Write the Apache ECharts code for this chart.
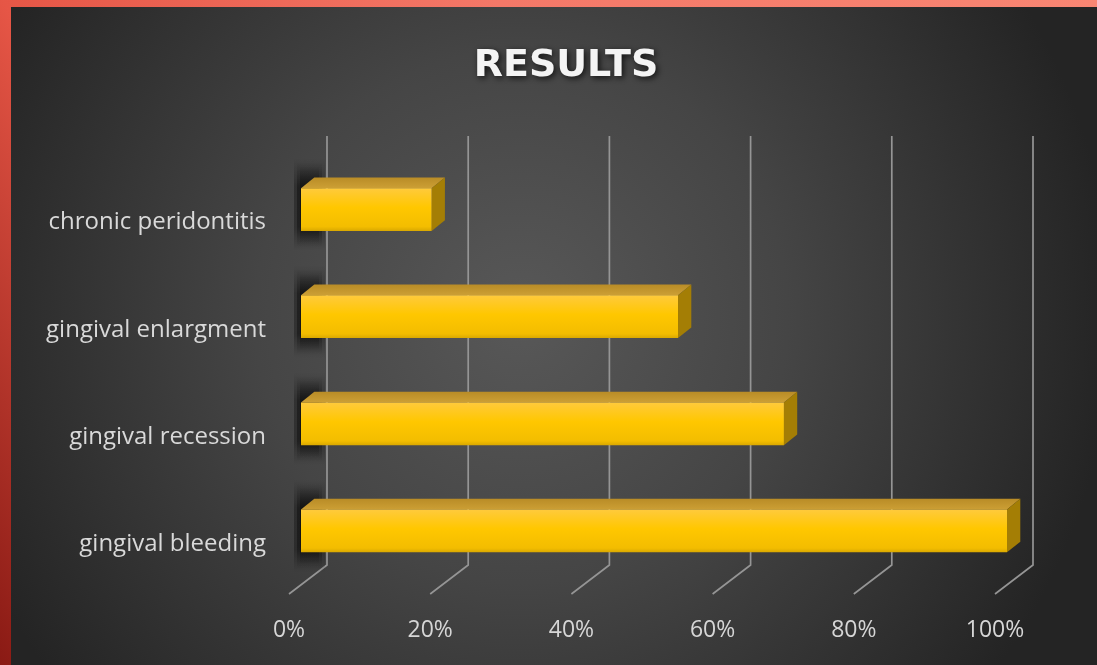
<!DOCTYPE html>
<html><head><meta charset="utf-8">
<script src="https://cdn.jsdelivr.net/npm/echarts@6/dist/echarts.min.js"></script>
<style>html,body{margin:0;padding:0;background:#2a2a2a;overflow:hidden}#c{width:1097px;height:665px}</style>
</head><body><div id="c"></div>
<script>
const categories = ['chronic peridontitis', 'gingival enlargment', 'gingival recession', 'gingival bleeding'];
const values = [18.5, 53.4, 68.4, 100];
const tickValues = [0, 20, 40, 60, 80, 100];
const tickLabels = ['0%', '20%', '40%', '60%', '80%', '100%'];
const chartTitle = 'RESULTS';

const W = 1097, H = 665;
const chart = echarts.init(document.getElementById('c'), null, {renderer: 'canvas', width: W, height: H});

// 3D geometry (pixels)
const BAR_DX = 13.3, BAR_DY = -10.7;   // bar depth
const WALL_DX = 26;                    // back wall offset from bar front plane
const WALL_TOP = -20, WALL_BOT = -19.5;
const FLOOR_DX = -38, FLOOR_DY = 29;

function shadowFill(a) {
  return new echarts.graphic.LinearGradient(0, 0, 0, 1, [
    {offset: 0, color: 'rgba(0,0,0,0)'}, {offset: 0.3, color: 'rgba(0,0,0,' + a + ')'},
    {offset: 0.75, color: 'rgba(0,0,0,' + a + ')'}, {offset: 1, color: 'rgba(0,0,0,0)'}]);
}

function barItem(params, api) {
  const v = api.value(0), idx = api.value(1);
  const p0 = api.coord([0, idx]);
  const p1 = api.coord([v, idx]);
  const h = api.size([0, 1])[1] * 0.4;
  const x0 = p0[0], x1 = p1[0], yt = p0[1] - h / 2, yb = p0[1] + h / 2;
  return {
    type: 'group',
    children: [
      { type: 'rect', shape: {x: x0 - 7, y: yt - 30, width: 31, height: h + 50},
        style: {fill: shadowFill(0.3)} },
      { type: 'rect', shape: {x: x0 - 4, y: yt - 26, width: 25, height: h + 42},
        style: {fill: shadowFill(0.35)} },
      { type: 'rect', shape: {x: x0 - 1, y: yt - 22, width: 19, height: h + 34},
        style: {fill: shadowFill(0.4)} },
      { type: 'polygon', shape: {points: [[x0, yt], [x1, yt], [x1 + BAR_DX, yt + BAR_DY], [x0 + BAR_DX, yt + BAR_DY]]},
        style: {fill: new echarts.graphic.LinearGradient(0, 0, 0, 1, [
          {offset: 0, color: '#b98c26'}, {offset: 1, color: '#cc9f35'}])} },
      { type: 'polygon', shape: {points: [[x1, yt], [x1 + BAR_DX, yt + BAR_DY], [x1 + BAR_DX, yb + BAR_DY], [x1, yb]]},
        style: {fill: '#a47e05'} },
      { type: 'rect', shape: {x: x0, y: yt, width: x1 - x0, height: h},
        style: {fill: new echarts.graphic.LinearGradient(0, 0, 0, 1, [
          {offset: 0, color: '#ffca3c'}, {offset: 0.45, color: '#ffc700'},
          {offset: 0.9, color: '#f3bd00'}, {offset: 1, color: '#d9a800'}])} }
    ]
  };
}

function gridItem(params, api) {
  const v = api.value(0);
  const cs = params.coordSys;
  const x = api.coord([v, 0])[0] + WALL_DX;
  const top = cs.y + WALL_TOP, bot = cs.y + cs.height + WALL_BOT;
  return {
    type: 'polyline',
    shape: {points: [[x, top], [x, bot], [x + FLOOR_DX, bot + FLOOR_DY]]},
    style: {stroke: '#959595', lineWidth: 1.7, fill: null}
  };
}

const labelFont = "'Open Sans', sans-serif";

chart.setOption({
  animation: false,
  title: {
    text: chartTitle, left: 561, top: 42, textAlign: 'center',
    textStyle: {fontFamily: "'DejaVu Sans', sans-serif", fontWeight: 'bold', fontSize: 38, color: '#f4f4f4',
      textShadowColor: 'rgba(0,0,0,0.75)', textShadowBlur: 6, textShadowOffsetX: 2, textShadowOffsetY: 2}
  },
  graphic: [
    { type: 'rect', z: -100, silent: true, shape: {x: 0, y: 0, width: W, height: H},
      style: {fill: new echarts.graphic.LinearGradient(0, 1, 1, 0, [
        {offset: 0, color: '#8a1a14'}, {offset: 0.27, color: '#e65646'},
        {offset: 0.6, color: '#f47868'}, {offset: 1, color: '#f98673'}])} },
    { type: 'rect', z: -99, silent: true, shape: {x: 11, y: 7, width: W - 11, height: H - 7},
      style: {fill: new echarts.graphic.RadialGradient(0.47, 0.47, 0.9, [
        {offset: 0, color: '#585858'}, {offset: 0.45, color: '#454545'}, {offset: 1, color: '#242424'}])} }
  ],
  grid: [
    {left: 301, right: 90, top: 156, bottom: 80.5},
    {left: 289, right: 102, top: 169, bottom: 67.5}
  ],
  xAxis: [
    {gridIndex: 0, type: 'value', min: 0, max: 100, interval: 20, show: false},
    {gridIndex: 1, type: 'value', min: 0, max: 100, interval: 20,
      axisLine: {show: false}, axisTick: {show: false}, splitLine: {show: false},
      axisLabel: {margin: 21, color: '#d6d6d6', fontSize: 23, fontFamily: labelFont,
        formatter: v => tickLabels[tickValues.indexOf(v)]}}
  ],
  yAxis: [
    {gridIndex: 0, type: 'category', data: categories, inverse: true, show: false},
    {gridIndex: 1, type: 'category', data: categories, inverse: true,
      axisLine: {show: false}, axisTick: {show: false}, splitLine: {show: false},
      axisLabel: {margin: 23, color: '#d9d9d9', fontSize: 24, fontFamily: labelFont}}
  ],
  series: [
    {type: 'custom', xAxisIndex: 0, yAxisIndex: 0, clip: false, silent: true, z: 1,
      data: tickValues.map(v => [v, 0]), encode: {x: 0, y: 1}, renderItem: gridItem},
    {type: 'custom', xAxisIndex: 0, yAxisIndex: 0, clip: false, silent: true, z: 2,
      data: values.map((v, i) => [v, i]), encode: {x: 0, y: 1}, renderItem: barItem}
  ]
});
</script></body></html>
